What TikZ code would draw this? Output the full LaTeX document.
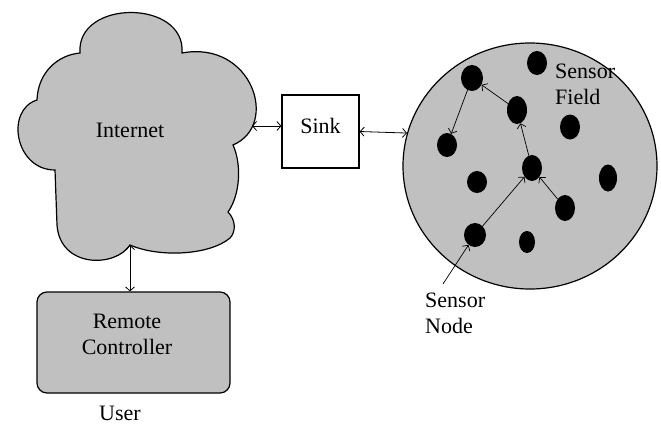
\documentclass[tikz,border=0pt]{standalone}
\usepackage{fontspec}
\setmainfont{Liberation Serif}
\usetikzlibrary{arrows.meta,shapes.geometric}
\definecolor{panelgray}{HTML}{C0C0C0}
\tikzset{
  lbl/.style={font=\fontsize{22}{26}\selectfont, inner sep=0pt},
  outline/.style={draw=black, line width=1.2pt},
  link/.style={line width=0.8pt, {Straight Barb[length=4pt,width=9pt]}-{Straight Barb[length=4pt,width=9pt]}},
  hop/.style={line width=0.7pt, -{Straight Barb[length=4pt,width=9pt]}},
  sensor/.style={ellipse, fill=black, inner sep=0pt, minimum width=20pt, minimum height=25pt},
}
\begin{document}
\begin{tikzpicture}[x=1pt, y=-1pt]
\useasboundingbox (0,0) rectangle (661,426);

% cloud standing for the Internet
\draw[outline, fill=panelgray]
  (37,100) .. controls (38,72) and (58,55) .. (80,53)
  .. controls (76,-1) and (186,-1) .. (182,53)
  .. controls (252,40) and (280,125) .. (233,145)
  .. controls (242,165) and (240,195) .. (228,212)
  .. controls (236,220) and (236,232) .. (230,238)
  .. controls (210,255) and (160,258) .. (130,245)
  .. controls (115,268) and (60,268) .. (57,225)
  -- (55,170)
  .. controls (15,170) and (5,110) .. (37,100) -- cycle;
\coordinate (cloudE) at (252,126);
\coordinate (cloudS) at (130,245);
\node[lbl, anchor=base] (inet) at (130,137) {Internet};

% sink
\node[outline, draw, minimum width=77pt, minimum height=73pt, inner sep=0pt,
      font=\fontsize{22}{26}\selectfont, text height=15pt, text depth=12pt]
  (sink) at (320.5,131.5) {Sink};

% sensor field
\node[ellipse, outline, fill=panelgray, minimum width=254pt, minimum height=246pt, inner sep=0pt]
  (field) at (530,166) {};
\node[lbl, anchor=north west, align=left] (fieldlbl) at (555,64) {Sensor\\Field};

% sensor nodes
\node[sensor, minimum width=22pt, minimum height=26pt] (d1) at (472,78) {};
\node[sensor, minimum height=24pt] (d2) at (537,63) {};
\node[sensor, minimum height=28pt] (d3) at (517,110) {};
\node[sensor] (d4) at (570,127) {};
\node[sensor, minimum height=24pt] (d5) at (447,145) {};
\node[sensor, minimum height=26pt] (d6) at (532,168) {};
\node[sensor, minimum height=22pt] (d7) at (477,182) {};
\node[sensor, minimum width=18pt, minimum height=27pt] (d8) at (608,178) {};
\node[sensor, minimum height=26pt] (d9) at (565,208) {};
\node[sensor, minimum width=22pt, minimum height=24pt] (d10) at (475,235) {};
\node[sensor, minimum width=16pt, minimum height=22pt] (d11) at (527,242) {};

% routing hops towards the sink
\draw[hop] (d3) -- (d1);
\draw[hop] (d1) -- (d5);
\draw[hop] (d6) -- (d3);
\draw[hop] (d10) -- (d6);
\draw[hop] (d9) -- (d6);

% sensor node callout
\node[lbl, anchor=north west, align=left] (nodelbl) at (425,293) {Sensor\\Node};
\coordinate (nodetail) at (443,284);
\draw[hop] (nodetail) -- (d10);

% remote controller
\node[outline, draw, fill=panelgray, rounded corners=10pt, minimum width=193pt,
      minimum height=101pt, inner sep=0pt] (rc) at (133.5,342.5) {};
\node[lbl, anchor=north, align=center] (rclbl) at (127,314) {Remote\\Controller};
\node[lbl, anchor=base] (user) at (120,420) {User};

% links
\draw[link] (cloudE) -- (cloudE -| sink.west);
\draw[link] (sink.east) -- (field.165);
\draw[link] (cloudS) -- (cloudS |- rc.north);
\end{tikzpicture}
\end{document}
